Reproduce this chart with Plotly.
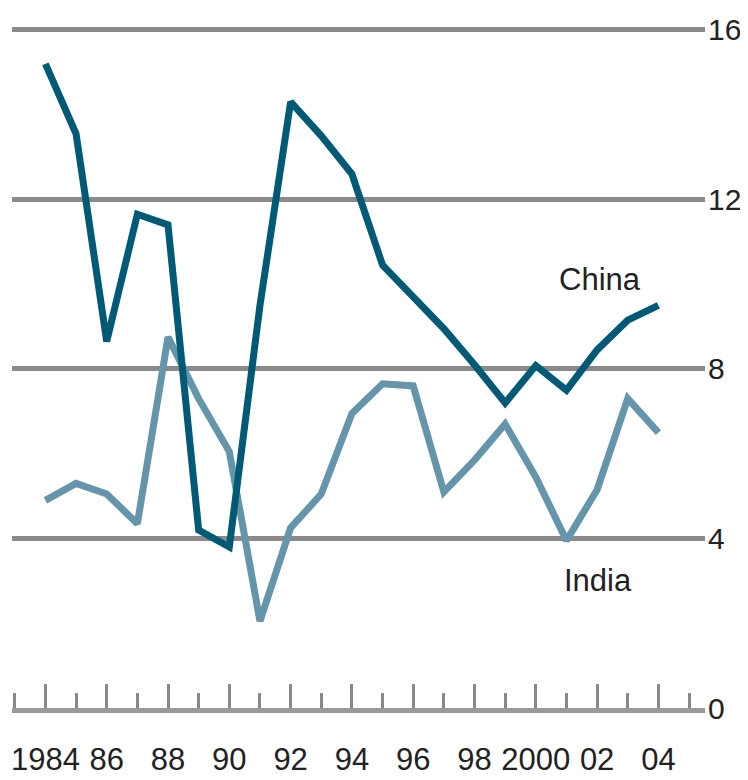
import plotly.graph_objects as go

years = list(range(1984, 2005))
china = [15.2, 13.55, 8.65, 11.65, 11.4, 4.2, 3.8, 9.5, 14.3, 13.5, 12.6,
         10.45, 9.7, 8.95, 8.1, 7.2, 8.08, 7.5, 8.45, 9.15, 9.5]
india = [4.9, 5.3, 5.05, 4.35, 8.75, 7.3, 6.05, 2.05, 4.25, 5.05, 6.95,
         7.65, 7.6, 5.1, 5.85, 6.7, 5.45, 3.95, 5.15, 7.3, 6.5]

xtick_vals = list(range(1984, 2005, 2))
xtick_text = ["1984", "86", "88", "90", "92", "94", "96", "98", "2000", "02", "04"]
ytick_vals = [0, 4, 8, 12, 16]

FONT = "Liberation Sans, Arial, sans-serif"

fig = go.Figure()
fig.add_trace(go.Scatter(x=years, y=india, mode="lines", name="India",
                         line=dict(color="#6595ab", width=7)))
fig.add_trace(go.Scatter(x=years, y=china, mode="lines", name="China",
                         line=dict(color="#005a76", width=7)))

fig.add_annotation(x=2002.09, y=10.1, text="China", showarrow=False,
                   xanchor="center", yanchor="middle",
                   font=dict(family=FONT, size=31, color="#222222"))
fig.add_annotation(x=2002.03, y=3.0, text="India", showarrow=False,
                   xanchor="center", yanchor="middle",
                   font=dict(family=FONT, size=31, color="#222222"))

fig.update_layout(
    width=748, height=772,
    margin=dict(l=4, r=51, t=2, b=72),
    paper_bgcolor="white", plot_bgcolor="white",
    showlegend=False,
    font=dict(family=FONT, size=30, color="#222222"),
    xaxis=dict(
        range=[1982.91, 2005.52], automargin=False,
        tickvals=xtick_vals, ticktext=xtick_text,
        ticks="inside", ticklen=24, tickwidth=3, tickcolor="#888888",
        minor=dict(dtick=1, tick0=1984, ticks="inside", ticklen=15,
                   tickwidth=3, tickcolor="#888888", showgrid=False),
        showline=True, linecolor="#9a9a9a", linewidth=5,
        showgrid=False, zeroline=False, ticklabelstandoff=20,
        tickfont=dict(family=FONT, size=31, color="#222222"),
    ),
    yaxis=dict(
        range=[0, 16.47], side="right", automargin=False,
        tickvals=ytick_vals, ticks="", ticklabelstandoff=2,
        showgrid=True, gridcolor="#8a8a8a", gridwidth=5,
        zeroline=False, showline=False,
        tickfont=dict(family=FONT, size=30, color="#222222"),
    ),
)

fig.write_html("out.html")
